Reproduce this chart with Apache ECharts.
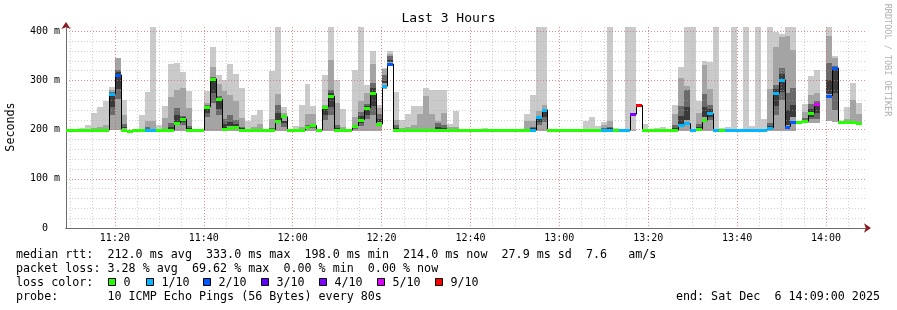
<!DOCTYPE html>
<html><head><meta charset="utf-8">
<script src="https://cdn.jsdelivr.net/npm/echarts@6/dist/echarts.min.js"></script>
<style>html,body{margin:0;padding:0;background:#fff}#c{width:897px;height:310px}</style>
</head><body><div id="c"></div>
<script>
// ---- time frame (minutes since midnight) ----
const startMinute = 669;          // 11:09
const endMinute = 849;            // 14:09
const stepMinutes = 4 / 3;        // 80 s per step
const firstStepEnd = 669 + 1 / 3; // 11:09:20

const xTickLabels = ['11:20','11:40','12:00','12:20','12:40','13:00','13:20','13:40','14:00'];
const yTickLabels = ['0  ','100 m','200 m','300 m','400 m'];

// ---- per-step values (ms) ----
const median = [
 199,199,199,199,199,199,199,199,273,312,
 199,198,200,199,199,199,199,199,199,214,
 222,199,199,199,246,304,262,201,203,205,
 199,199,199,199,199,200,217,227,199,199,
 199,205,209,199,246,269,199,199,199,208,
 220,244,274,211,288,334,199,199,199,199,
 199,199,199,199,199,199,199,199,199,199,
 199,199,199,199,199,199,199,199,199,199,
 226,241,199,199,199,199,199,199,199,199,
 199,199,199,199,199,199,231,250,199,199,
 199,199,199,199,209,213,199,201,219,233,
 199,199,199,199,199,199,199,199,199,203,
 274,302,206,215,215,217,233,252,null,269,
 326,216,215,215,214];
const lossCount = [
 0,0,0,0,0,0,0,0,1,2,
 0,0,0,0,1,1,0,0,0,0,
 0,0,0,0,0,0,0,0,0,0,
 0,0,0,0,0,0,0,0,0,0,
 0,0,0,0,0,0,0,0,0,0,
 0,0,0,0,1,2,0,0,0,0,
 0,0,0,0,0,0,0,0,0,0,
 0,0,0,0,0,0,0,0,0,1,
 1,1,0,0,0,0,0,0,0,0,
 0,1,1,0,1,1,4,9,0,0,
 0,0,0,0,1,1,1,0,0,1,
 1,0,1,1,1,1,1,1,1,1,
 1,1,2,2,0,0,0,5,null,2,
 2,0,0,0,0];
const smokeMin = [
 198,198,198,198,198,198,198,198,200,199,
 198,198,198,198,198,198,198,198,198,198,
 198,198,198,198,198,198,198,198,198,198,
 198,198,198,198,198,198,198,198,198,198,
 198,198,198,198,198,198,198,198,198,198,
 198,198,198,198,282,330,198,198,198,198,
 198,198,198,198,198,198,198,198,198,198,
 198,198,198,198,198,198,198,198,198,198,
 198,198,198,198,198,198,198,198,198,198,
 198,198,198,198,198,198,198,250,198,198,
 198,198,198,198,198,198,198,198,198,198,
 198,198,198,198,198,198,198,198,198,198,
 198,198,198,198,213,213,213,214,null,218,
 215,213,213,213,213];
const smokeMax = [
 201,202,202,203,210,235,247,259,286,345,
 260,199,201,229,277,409,210,249,334,336,
 318,278,200,200,278,368,312,302,333,314,
 284,218,229,240,200,319,409,246,200,207,
 250,292,248,200,311,409,302,243,200,322,
 409,290,360,251,325,360,276,219,232,249,
 249,284,281,281,281,212,239,202,202,202,
 202,203,202,202,202,201,200,200,231,271,
 409,409,200,200,200,200,200,200,217,225,
 207,216,409,203,200,409,409,250,212,200,
 203,206,201,251,327,409,409,258,339,337,
 409,203,206,409,202,409,207,409,222,409,
 399,394,409,409,214,253,309,321,null,409,
 351,216,246,295,254];
const smokeMid = [
 199,199,199,199,202,204,206,210,280,345,
 230,199,200,201,217,218,200,224,266,280,
 284,244,199,199,255,327,292,278,271,259,
 224,201,205,212,199,222,273,235,199,200,
 205,232,231,199,250,341,254,205,199,225,
 258,275,334,245,324,355,219,203,205,210,
 232,268,231,217,234,205,206,201,199,199,
 199,199,199,199,199,199,199,199,217,217,
 239,251,199,199,199,199,199,199,200,200,
 200,210,217,200,199,199,199,250,200,199,
 199,199,199,232,305,288,199,234,331,282,
 200,200,200,200,199,200,200,200,202,282,
 368,388,390,363,214,236,270,275,null,390,
 346,216,222,261,232];
const darkLo = [
 0,0,0,0,0,0,0,0,230,262,
 203,0,0,0,201,0,0,0,202,210,
 210,201,0,0,225,255,230,204,208,207,
 201,0,0,0,0,201,215,205,0,0,
 0,201,203,0,220,230,202,0,0,201,
 208,222,230,215,295,337,203,0,0,0,
 0,0,0,202,202,0,0,0,0,0,
 0,0,0,0,0,0,0,0,0,201,
 210,215,0,0,0,0,0,0,0,0,
 0,201,201,0,0,0,0,0,0,0,
 0,0,0,201,208,220,0,202,225,220,
 0,0,0,0,0,0,0,0,0,201,
 230,260,210,225,0,217,222,222,null,272,
 240,0,0,0,0];
const darkHi = [
 0,0,0,0,0,0,0,0,276,322,
 212,0,0,0,205,0,0,0,214,245,
 228,207,0,0,250,308,268,222,230,220,
 206,0,0,0,0,204,250,218,0,0,
 0,209,211,0,246,280,210,0,0,209,
 236,252,295,232,312,350,210,0,0,0,
 0,0,0,213,210,0,0,0,0,0,
 0,0,0,0,0,0,0,0,0,206,
 228,242,0,0,0,0,0,0,0,0,
 0,204,206,0,0,0,0,0,0,0,
 0,0,0,210,248,280,0,212,272,250,
 0,0,0,0,0,0,0,0,0,214,
 290,325,275,285,0,224,252,258,null,335,
 330,0,0,0,0];

const lossLabels = ['0','1/10','2/10','3/10','4/10','5/10','9/10'];
const lossLevels = [0,1,2,3,4,5,9];
const lossColors = ['#26ff00','#00b8ff','#0059ff','#5e00ff','#7e00ff','#dd00ff','#ff0000'];

const statLines = [
 'median rtt:  212.0 ms avg  333.0 ms max  198.0 ms min  214.0 ms now  27.9 ms sd  7.6   am/s',
 'packet loss: 3.28 % avg  69.62 % max  0.00 % min  0.00 % now',
 'loss color:',
 'probe:       10 ICMP Echo Pings (56 Bytes) every 80s'
];
const endText = 'end: Sat Dec  6 14:09:00 2025';

// ---- build series data ----
const smokeData = [], medianData = [];
median.forEach((m, k) => {
  if (m == null) return;
  const e = firstStepEnd + k * stepMinutes;
  const s = e - stepMinutes;
  smokeData.push([s, e, smokeMin[k], smokeMax[k], smokeMid[k], darkLo[k], darkHi[k], m]);
  const prev = k > 0 && median[k - 1] != null ? median[k - 1] : -1;
  medianData.push([s, e, m, lossCount[k], prev]);
});
function colorForLoss(l) {
  let c = lossColors[0];
  lossLevels.forEach((lv, i) => { if (l >= lv) c = lossColors[i]; });
  return c;
}

const MONO = 'DejaVu Sans Mono';
const chart = echarts.init(document.getElementById('c'), null, {renderer: 'canvas'});

function xRange(api) {
  const s = Math.max(api.value(0), startMinute);
  const e = Math.min(api.value(1), endMinute);
  return [Math.round(api.coord([s, 0])[0]), Math.round(api.coord([e, 0])[0])];
}

function renderSmoke(params, api) {
  const [x0, x1] = xRange(api);
  const Y = v => api.coord([startMinute, v])[1];
  const lo = api.value(2), hi = api.value(3), mid = api.value(4), dl = api.value(5), dh = api.value(6), med = api.value(7);
  const children = [];
  const band = (a, b, fill) => {
    if (b <= a) return;
    const yt = Math.round(Y(b)), yb = Math.round(Y(a));
    children.push({type: 'rect', shape: {x: x0, y: yt, width: x1 - x0, height: Math.max(1, yb - yt)}, style: {fill}});
  };
  band(lo, hi, '#cacaca');
  band(lo, mid, '#a4a4a4');
  band(dl, dh, '#6a6a6a');
  // darkest core hugging the median
  if (dh > dl) band(Math.max(dl, med - (med - dl) * 0.6), Math.min(dh, med + (dh - med) * 0.5), '#3a3a3a');
  return {type: 'group', children};
}

function renderStepLine(params, api) {
  const [x0] = xRange(api);
  const m = api.value(2), prev = api.value(4);
  if (!(prev >= 0) || prev === m) return {type: 'group', children: []};
  const y1 = api.coord([startMinute, prev])[1], y2 = api.coord([startMinute, m])[1];
  return {type: 'line', shape: {x1: x0 + 0.5, y1: y1, x2: x0 + 0.5, y2: y2}, style: {stroke: '#000', lineWidth: 1}};
}

function renderMedian(params, api) {
  const [x0, x1] = xRange(api);
  const y = Math.round(api.coord([startMinute, api.value(2)])[1]);
  return {type: 'rect', shape: {x: x0, y: y - 1, width: x1 - x0, height: 3}, style: {fill: colorForLoss(api.value(3))}};
}

const xBase = {type: 'value', min: startMinute, max: endMinute, position: 'bottom'};
const yBase = {type: 'value', min: 0, max: 409, position: 'left'};
const minorGrid = {show: true, showMinLine: false, showMaxLine: false, lineStyle: {color: 'rgba(170,170,170,0.55)', type: [1, 2], width: 1}};
const majorGrid = {show: true, showMinLine: false, showMaxLine: false, lineStyle: {color: 'rgba(240,70,70,0.5)', type: [1, 2], width: 1}};
const hidden = {axisLine: {show: false}, axisTick: {show: false}, axisLabel: {show: false}};

const graphic = [
  {type: 'text', x: 448.5, y: 19, style: {text: 'Last 3 Hours', font: '13px "' + MONO + '"', fill: '#000', align: 'center', verticalAlign: 'middle'}},
  {type: 'text', x: 10.5, y: 127, rotation: Math.PI / 2, style: {text: 'Seconds', font: '11.7px "' + MONO + '"', fill: '#000', align: 'center', verticalAlign: 'middle'}},
  {type: 'text', x: 887, y: 60, rotation: -Math.PI / 2, style: {text: 'RRDTOOL / TOBI OETIKER', font: '8.5px "' + MONO + '"', fill: '#b0b0b0', align: 'center', verticalAlign: 'middle'}},
  {type: 'text', x: 880, y: 296.5, style: {text: endText, font: '11.7px "' + MONO + '"', fill: '#000', align: 'right', verticalAlign: 'middle'}}
];
const lineY = [254.5, 268.5, 282.5, 296.5];
statLines.forEach((t, i) => graphic.push({type: 'text', x: 16, y: lineY[i], style: {text: t, font: '11.7px "' + MONO + '"', fill: '#000', align: 'left', verticalAlign: 'middle'}}));
const boxX = [108.5, 146.5, 203.5, 261.5, 319.5, 377.5, 435.5];
lossLabels.forEach((t, i) => {
  graphic.push({type: 'rect', shape: {x: boxX[i], y: 278.5, width: 7, height: 7}, style: {fill: lossColors[i], stroke: '#000', lineWidth: 1}});
  graphic.push({type: 'text', x: boxX[i] + 15, y: 282.5, style: {text: t, font: '11.7px "' + MONO + '"', fill: '#000', align: 'left', verticalAlign: 'middle'}});
});

chart.setOption({
  animation: false,
  backgroundColor: '#ffffff',
  grid: {left: 66, right: 31, top: 27, bottom: 82, containLabel: false},
  xAxis: [
    Object.assign({}, xBase, hidden, {splitNumber: 36, minInterval: 5, maxInterval: 5, z: 3, splitLine: minorGrid}),
    Object.assign({}, xBase, {splitNumber: 9, minInterval: 20, maxInterval: 20, z: 4,
      axisLine: {show: true, symbol: ['none', 'arrow'], symbolSize: [7, 7], symbolOffset: [0, 5], lineStyle: {color: '#8b1a1a'}},
      axisTick: {show: false},
      axisLabel: {show: true, margin: 5, fontFamily: MONO, fontSize: 10, color: '#000',
        formatter: v => { const i = Math.round((v - 680) / 20); return (Math.abs(v - (680 + 20 * i)) < 1e-6 && i >= 0 && i < xTickLabels.length) ? xTickLabels[i] : ''; }},
      splitLine: majorGrid}),
    Object.assign({}, xBase, {z: 5, axisLine: {show: true, lineStyle: {color: '#6e6e6e'}}, axisTick: {show: false}, axisLabel: {show: false}, splitLine: {show: false}})
  ],
  yAxis: [
    Object.assign({}, yBase, hidden, {splitNumber: 20, minInterval: 20, maxInterval: 20, z: 3, splitLine: minorGrid}),
    Object.assign({}, yBase, {splitNumber: 4, minInterval: 100, maxInterval: 100, z: 4,
      axisLine: {show: true, symbol: ['none', 'arrow'], symbolSize: [7, 7], symbolOffset: [0, 5], lineStyle: {color: '#8b1a1a'}},
      axisTick: {show: false},
      axisLabel: {show: true, margin: 6, fontFamily: MONO, fontSize: 10, color: '#000', align: 'right',
        formatter: v => { const i = Math.round(v / 100); return (Math.abs(v - 100 * i) < 1e-6 && i < yTickLabels.length) ? yTickLabels[i] : ''; }},
      splitLine: majorGrid}),
    Object.assign({}, yBase, {z: 5, axisLine: {show: true, lineStyle: {color: '#6e6e6e'}}, axisTick: {show: false}, axisLabel: {show: false}, splitLine: {show: false}})
  ],
  series: [
    {type: 'custom', name: 'smoke', xAxisIndex: 0, yAxisIndex: 0, z: 1, renderItem: renderSmoke, data: smokeData, silent: true},
    {type: 'custom', name: 'step', xAxisIndex: 0, yAxisIndex: 0, z: 6, renderItem: renderStepLine, data: medianData, silent: true},
    {type: 'custom', name: 'median', xAxisIndex: 0, yAxisIndex: 0, z: 7, renderItem: renderMedian, data: medianData, silent: true}
  ],
  graphic: graphic
});
</script></body></html>
